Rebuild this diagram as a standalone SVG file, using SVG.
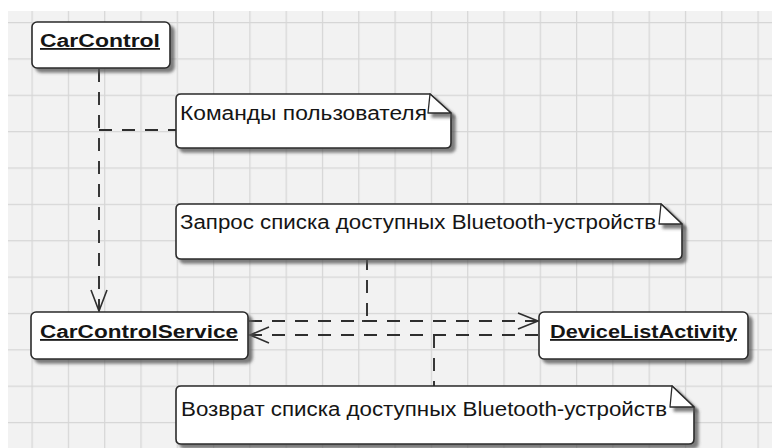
<svg xmlns="http://www.w3.org/2000/svg" width="772" height="448" viewBox="0 0 772 448">
  <defs>
    <pattern id="grid" x="31.5" y="22" width="36.3" height="36.36" patternUnits="userSpaceOnUse">
      <rect width="36.3" height="36.36" fill="#f2f2f2"/>
      <path d="M0.5,0 V36.36 M0,0.5 H36.3" stroke="#d6d6d6" stroke-width="1.4" fill="none"/>
    </pattern>
    <filter id="sh" x="-10%" y="-20%" width="130%" height="160%">
      <feDropShadow dx="4" dy="4" stdDeviation="1.6" flood-color="#555" flood-opacity="0.75"/>
    </filter>
    <style>
      .box { fill: #ffffff; stroke: #2a2a2a; stroke-width: 1.6; filter: url(#sh); }
      .fold { fill: #ffffff; stroke: #2a2a2a; stroke-width: 1.3; stroke-linejoin: round; filter: url(#sh); }
      .name { font-family: "Liberation Sans", Arial, sans-serif; font-weight: bold; font-size: 18px; fill: #151515; text-decoration: underline; }
      .note { font-family: "Liberation Sans", Arial, sans-serif; font-size: 19.5px; fill: #151515; }
      .dash { fill: none; stroke: #2e2e2e; stroke-width: 1.9; stroke-dasharray: 13 10; }
      .head { fill: none; stroke: #2e2e2e; stroke-width: 1.6; stroke-linejoin: miter; }
    </style>
  </defs>

  <rect x="0" y="0" width="772" height="448" fill="#ffffff"/>
  <rect x="8" y="11" width="764" height="437" fill="url(#grid)"/>

  <g id="connectors">
    <line class="dash" x1="99" y1="69" x2="99" y2="310"/>
    <polyline class="head" points="91,290 99,311 107,290"/>
    <line class="dash" x1="99" y1="130" x2="176" y2="130"/>
    <line class="dash" x1="249" y1="321" x2="537" y2="321"/>
    <polyline class="head" points="518,313 538,321 518,329"/>
    <line class="dash" x1="538" y1="335" x2="251" y2="335"/>
    <polyline class="head" points="269,327 250,335 269,343"/>
    <line class="dash" x1="367" y1="260" x2="367" y2="321" stroke-dashoffset="3"/>
    <line x1="362" y1="321" x2="372" y2="321" stroke="#2e2e2e" stroke-width="1.9"/>
    <line class="dash" x1="434" y1="335" x2="434" y2="386"/>
  </g>

  <g id="CarControl">
    <rect class="box" x="32" y="22" width="138" height="46" rx="5"/>
    <text class="name" x="40" y="47" textLength="120" lengthAdjust="spacingAndGlyphs">CarControl</text>
  </g>

  <g id="CarControlService">
    <rect class="box" x="31" y="312" width="217" height="47" rx="5"/>
    <text class="name" x="40" y="338" textLength="198" lengthAdjust="spacingAndGlyphs">CarControlService</text>
  </g>

  <g id="DeviceListActivity">
    <rect class="box" x="539" y="312" width="209" height="47" rx="5"/>
    <text class="name" x="550" y="338" textLength="187" lengthAdjust="spacingAndGlyphs">DeviceListActivity</text>
  </g>

  <g id="note1">
    <path class="box" d="M181,94 H430 L451,113 V143 Q451,148 446,148 H181 Q176,148 176,143 V99 Q176,94 181,94 Z"/>
    <path class="fold" d="M430,94 L428,113 L451,113 Z"/>
    <text class="note" x="180" y="120" textLength="247" lengthAdjust="spacingAndGlyphs">Команды пользователя</text>
  </g>

  <g id="note2">
    <path class="box" d="M181,204 H661 L682,224 V254 Q682,259 677,259 H181 Q176,259 176,254 V209 Q176,204 181,204 Z"/>
    <path class="fold" d="M661,204 L659,224 L682,224 Z"/>
    <text class="note" x="180" y="229" font-size="18.5" textLength="476" lengthAdjust="spacingAndGlyphs">Запрос списка доступных Bluetooth-устройств</text>
  </g>

  <g id="note3">
    <path class="box" d="M181,386 H672 L694,407 V439 Q694,444 689,444 H181 Q176,444 176,439 V391 Q176,386 181,386 Z"/>
    <path class="fold" d="M672,386 L670,407 L694,407 Z"/>
    <text class="note" x="181" y="416" font-size="18.5" textLength="486" lengthAdjust="spacingAndGlyphs">Возврат списка доступных Bluetooth-устройств</text>
  </g>
</svg>
